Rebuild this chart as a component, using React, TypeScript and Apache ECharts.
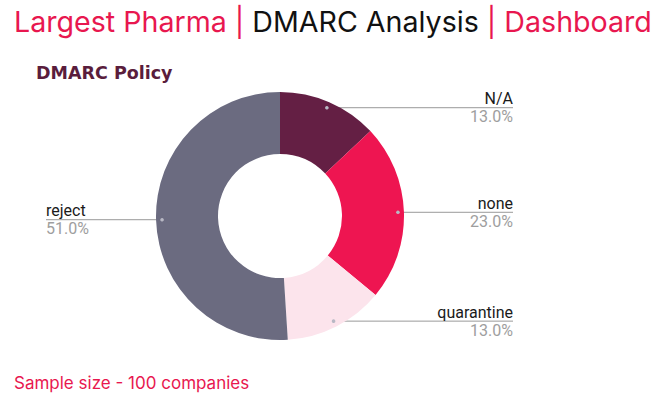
import React, { useEffect, useRef } from "react";
import * as echarts from "echarts";

const categories = ["N/A", "none", "quarantine", "reject"];
const values = [13, 23, 13, 51];
const colors = ["#641F44", "#EE1551", "#FCE4EC", "#6B6B80"];

const W = 667;
const H = 396;
const CX = 280;
const CY = 216;
const R_OUT = 124;
const R_IN = 62;
const R_DOT = 118;
const LEFT_EDGE = 46;
const RIGHT_EDGE = 513;

const total = values.reduce((a, b) => a + b, 0);
const cum: number[] = [];
values.reduce((acc, v, i) => {
  cum[i] = acc;
  return acc + v;
}, 0);

function anchor(i: number) {
  const mid = ((cum[i] + values[i] / 2) / total) * Math.PI * 2;
  return [CX + R_DOT * Math.sin(mid), CY - R_DOT * Math.cos(mid)];
}

export default function App() {
  const ref = useRef<HTMLDivElement>(null);
  useEffect(() => {
    if (!ref.current) return;
    const chart = echarts.init(ref.current, null, { renderer: "svg" });
    const dots = categories.map((_, i) => {
      const [x, y] = anchor(i);
      return {
        type: "circle",
        shape: { cx: x, cy: y, r: 1.8 },
        style: { fill: "#b8b8c4" },
        z: 100,
      };
    });
    chart.setOption({
      animation: false,
      backgroundColor: "#ffffff",
      title: [
        {
          left: 14,
          top: 7,
          padding: 0,
          text: "{p|Largest Pharma | }{k|DMARC Analysis}{p| | Dashboard}",
          textStyle: {
            rich: {
              p: { fontFamily: "Inter", fontSize: 28.6, color: "#E8174F", fontWeight: 400 },
              k: { fontFamily: "Inter", fontSize: 28.6, color: "#111111", fontWeight: 400 },
            },
          },
        },
        {
          left: 36,
          top: 64,
          padding: 0,
          text: "DMARC Policy",
          textStyle: {
            fontFamily: "DejaVu Sans",
            fontWeight: "bold",
            fontSize: 17.5,
            color: "#5A1D3C",
          },
        },
        {
          left: 14,
          top: 374,
          padding: 0,
          text: "Sample size - 100 companies",
          textStyle: {
            fontFamily: "Inter",
            fontWeight: 400,
            fontSize: 17,
            color: "#E8174F",
          },
        },
      ],
      graphic: dots,
      series: [
        {
          type: "pie",
          center: [CX, CY],
          radius: [R_IN, R_OUT],
          startAngle: 90,
          clockwise: true,
          avoidLabelOverlap: false,
          data: categories.map((c, i) => ({
            name: c,
            value: values[i],
            itemStyle: { color: colors[i] },
          })),
          emphasis: { disabled: true },
          label: {
            show: true,
            position: "outside",
            formatter: (p: any) => `{n|${p.name}}\n{p|${p.percent.toFixed(1)}%}`,
            rich: {
              n: { fontFamily: "Roboto", fontSize: 16, color: "#1a1a1a", lineHeight: 18 },
              p: { fontFamily: "Roboto", fontSize: 16, color: "#9e9e9e", lineHeight: 18 },
            },
          },
          labelLine: {
            show: true,
            length: 5,
            length2: 10,
            lineStyle: { color: "#999999", width: 1 },
          },
          labelLayout: (params: any) => {
            const i = params.dataIndex;
            const [px, py] = anchor(i);
            const isLeft = px < CX;
            const ex = isLeft ? LEFT_EDGE : RIGHT_EDGE;
            return {
              x: ex,
              y: py,
              align: isLeft ? "left" : "right",
              verticalAlign: "middle",
              labelLinePoints: [
                [px, py],
                [px, py],
                [ex, py],
              ],
            };
          },
        },
      ],
    });
    return () => chart.dispose();
  }, []);
  return (
    <div
      ref={ref}
      style={{ position: "fixed", left: 0, top: 0, width: W, height: H }}
    />
  );
}
